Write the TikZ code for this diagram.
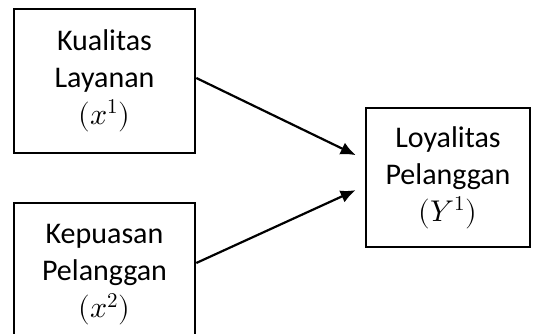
\documentclass[tikz,border=0pt]{standalone}
\usepackage{amsmath}
\usepackage{unicode-math}
\setmainfont{Carlito}
\setmathfont{Latin Modern Math}
\usepackage{tikz}
\usetikzlibrary{arrows.meta}

\begin{document}
\begin{tikzpicture}[x=1pt, y=1pt,
    kotak/.style={draw, line width=2.6pt, align=center, inner sep=0pt,
                  font=\fontsize{30}{37}\selectfont},
    panah/.style={-{Latex[length=15pt, width=13pt]}, line width=2.2pt, shorten >=10pt}]
                    \clip (0,0) rectangle (533,334);
                    \node[kotak, minimum width=181pt, minimum height=144pt] (kualitas) at (104.5,253) {Kualitas\\Layanan\\$(x^1)$};
                    \node[kotak, minimum width=181pt, minimum height=144pt] (kepuasan) at (104.5,59) {Kepuasan\\Pelanggan\\$(x^2)$};
                    \node[kotak, minimum width=164pt, minimum height=139pt] (loyalitas) at (448,156.5) {Loyalitas\\Pelanggan\\$(Y^1)$};
                    \draw[panah] ([yshift=3pt]kualitas.east) -- ([yshift=18pt]loyalitas.west);
                    \draw[panah] ([yshift=12pt]kepuasan.east) -- ([yshift=-8.5pt]loyalitas.west);
                \end{tikzpicture}
\end{document}
